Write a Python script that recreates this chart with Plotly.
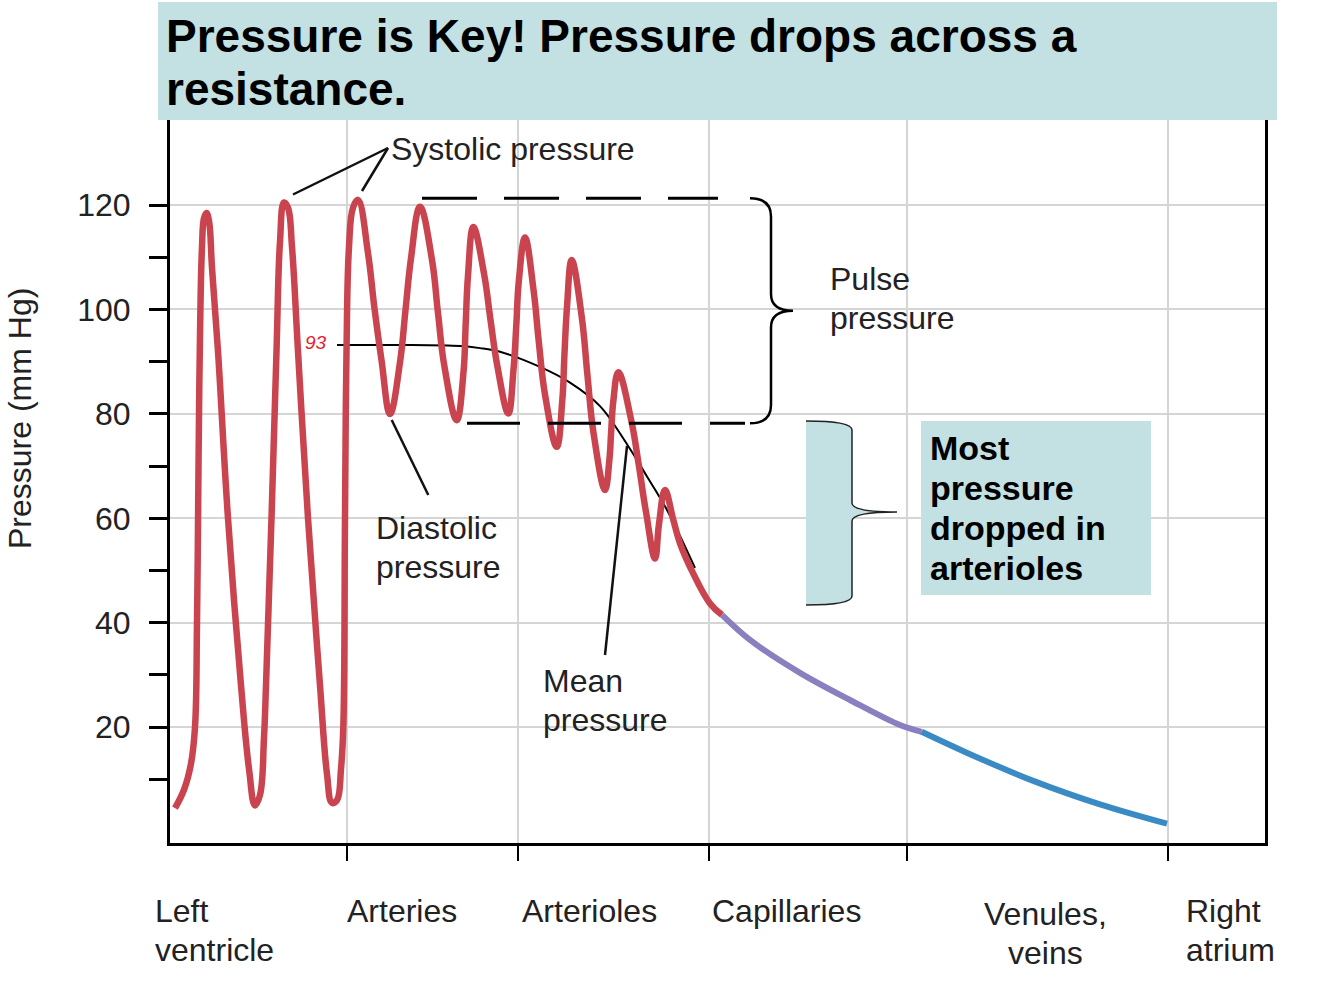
import plotly.graph_objects as go

# ---------------- data ----------------
# position along the circulation (arbitrary units), pressure in mm Hg
red_pos = [175, 184, 191, 195, 197, 198.5, 200, 202, 204, 206.5, 209, 212, 218, 228, 241, 249, 255,
           260, 264, 266, 271.5, 276.5, 280, 284, 288, 292, 298, 308, 320, 327, 332,
           337, 341, 343.3, 345, 346.5, 349, 353, 358,
           368, 374.3, 381.5, 390,
           400, 405.5, 411, 420,
           432, 438, 444.5, 456.7,
           463.5, 465.7, 468, 473.3,
           484, 490.5, 497.5, 508.3,
           513.5, 516.3, 518.8, 525,
           533.5, 538.8, 545, 556.7,
           562.3, 564.5, 567, 571.7,
           581.8, 587.4, 593.5, 605,
           609.3, 611.2, 613.3, 618.3,
           631, 638.8, 646, 655,
           659, 665,
           673.3, 680, 693.3, 710, 722]
red_p = [4.5, 8, 13, 20, 40, 70, 95, 112, 117.5, 118.5, 117, 108, 92, 60, 28, 12, 5,
         7, 18, 28, 60, 92, 113, 120.5, 119.5, 112, 92, 60, 28, 11, 5.5,
         6, 12, 20, 60, 92, 112, 119.5, 121,
         110.8, 100.5, 90.3, 80,
         89.9, 99.9, 109.8, 119.7,
         109.5, 99.3, 89, 78.8,
         88, 97.3, 106.5, 115.8,
         106.9, 98, 89, 80.1,
         88.5, 97, 105.4, 113.8,
         103.8, 93.8, 83.7, 73.7,
         82.6, 91.6, 100.5, 109.5,
         98.5, 87.5, 76.4, 65.4,
         71, 76.7, 82.4, 88,
         79, 70.2, 61.2, 52.3,
         58.9, 65.4,
         59.7, 55.2, 49.4, 43.7, 41.5]
purple_pos = [722, 750, 800, 850, 900, 921.7]
purple_p = [41.5, 36.7, 30.4, 25.2, 20.4, 19.1]
blue_pos = [921.7, 966.7, 1033.3, 1100, 1167]
blue_p = [19.1, 15.1, 9.7, 5.2, 1.5]
mean_pos = [337, 400, 460, 480, 500, 540, 570, 600, 627, 647, 667, 695]
mean_p = [93.2, 93.2, 93.0, 92.6, 91.9, 89.0, 86.0, 81.5, 74.2, 68.0, 61.6, 50.5]

systolic_level = 121.3
diastolic_level = 78.2
mean_level_label = "93"

region_pos = [347, 518, 709, 907, 1168]
y_major = [20, 40, 60, 80, 100, 120]
y_minor = [10, 30, 50, 70, 90, 110]

# ---------------- layout helpers (pixel positions of decorations) ----------------
L, R, T, B = 170, 1265, 120, 843
Y0, Y1 = -2.2, 136.3


def PX(px):
    return (px - L) / (R - L)


def PY(py):
    return (B - py) / (B - T)


def V(py):  # pixel y -> pressure value (for decorative shapes)
    return Y0 + (B - py) / (B - T) * (Y1 - Y0)


FONT = "Liberation Sans, Arial, Helvetica, sans-serif"
TXT = "#222222"

fig = go.Figure()
fig.add_trace(go.Scatter(x=mean_pos, y=mean_p, mode="lines", line=dict(color="black", width=2, shape="spline"),
                         hoverinfo="skip", showlegend=False))
fig.add_trace(go.Scatter(x=red_pos, y=red_p, mode="lines",
                         line=dict(color="#c9444f", width=6.5, shape="spline", smoothing=1.15),
                         showlegend=False))
fig.add_trace(go.Scatter(x=purple_pos, y=purple_p, mode="lines",
                         line=dict(color="#8a7fbf", width=6, shape="spline"), showlegend=False))
fig.add_trace(go.Scatter(x=blue_pos, y=blue_p, mode="lines",
                         line=dict(color="#3a8bc3", width=6, shape="spline"), showlegend=False))

shapes = []
# title box
shapes.append(dict(type="rect", xref="paper", yref="paper", x0=PX(158), x1=PX(1277), y0=PY(120), y1=PY(2),
                   fillcolor="#c3e0e2", line=dict(width=0), layer="above"))
# dashed systolic / diastolic levels
shapes.append(dict(type="line", xref="x", yref="y", x0=422, x1=718, y0=systolic_level, y1=systolic_level,
                   line=dict(color="black", width=3, dash="55px,27px")))
shapes.append(dict(type="line", xref="x", yref="y", x0=467, x1=745, y0=diastolic_level, y1=diastolic_level,
                   line=dict(color="black", width=3, dash="53px,28px")))
# pulse pressure brace
tip = (systolic_level + diastolic_level) / 2
p = (f"M 750,{systolic_level} Q 771,{systolic_level} 771,{systolic_level-3.5} L 771,{tip+3.2} "
     f"Q 771,{tip} 793,{tip} Q 771,{tip} 771,{tip-3.2} L 771,{diastolic_level+3.5} "
     f"Q 771,{diastolic_level} 750,{diastolic_level}")
shapes.append(dict(type="path", xref="x", yref="y", path=p, line=dict(color="black", width=2.5)))
# teal brace (arterioles)
pf = (f"M 806,{V(421)} Q 852,{V(421)} 852,{V(430)} L 852,{V(503)} Q 852,{V(512)} 897,{V(512)} "
      f"Q 852,{V(512)} 852,{V(521)} L 852,{V(596)} Q 852,{V(605)} 806,{V(605)} Z")
shapes.append(dict(type="path", xref="x", yref="y", path=pf, fillcolor="#c3e0e2", line=dict(width=0), layer="above"))
ps = (f"M 806,{V(421)} Q 852,{V(421)} 852,{V(430)} L 852,{V(503)} Q 852,{V(512)} 897,{V(512)} "
      f"Q 852,{V(512)} 852,{V(521)} L 852,{V(596)} Q 852,{V(605)} 806,{V(605)}")
shapes.append(dict(type="path", xref="x", yref="y", path=ps, line=dict(color="#222", width=1.5), layer="above"))
# text box
shapes.append(dict(type="rect", xref="x", yref="y", x0=921, x1=1151, y0=V(595), y1=V(421),
                   fillcolor="#c3e0e2", line=dict(width=0), layer="above"))
# leader lines
for (x0, y0, x1, y1) in [(388, 148, 293, 194.5), (388, 148, 362, 191), (391.7, 420, 428.3, 495), (627, 446, 605, 655)]:
    shapes.append(dict(type="line", xref="x", yref="y", x0=x0, y0=V(y0), x1=x1, y1=V(y1),
                       line=dict(color="#111", width=2.5)))

ann = []


def text(s, px, py, size=32, anchor="left", color=TXT, bold=False, **kw):
    ann.append(dict(text=f"<b>{s}</b>" if bold else s, x=PX(px), y=PY(py), xref="paper", yref="paper",
                    xanchor=anchor, yanchor="middle", showarrow=False,
                    font=dict(family=FONT, size=size, color=color, **kw)))


text("Pressure is Key! Pressure drops across a", 164, 36, size=46, color="black", bold=True)
text("resistance.", 164, 89, size=46, color="black", bold=True)
text("Systolic pressure", 389, 149)
text("Pulse", 828, 279)
text("pressure", 828, 318)
text("Diastolic", 374, 528)
text("pressure", 374, 567)
text("Mean", 541, 681)
text("pressure", 541, 720)
for i, s in enumerate(["Most", "pressure", "dropped in", "arterioles"]):
    text(s, 928, 448 + 40 * i, size=34, color="black", bold=True)
text(mean_level_label, 316, 342, size=19, anchor="center", color="#e8202a", style="italic")
# region labels
text("Left", 153, 911)
text("ventricle", 153, 950)
text("Arteries", 345, 911)
text("Arterioles", 520, 911)
text("Capillaries", 710, 911)
text("Venules,", 1045, 914, anchor="center")
text("veins", 1045, 953, anchor="center")
text("Right", 1184, 911)
text("atrium", 1184, 950)
# y-axis title
ann.append(dict(text="Pressure (mm Hg)", x=PX(20), y=PY(419), xref="paper", yref="paper", textangle=-90,
                xanchor="center", yanchor="middle", showarrow=False, font=dict(family=FONT, size=32, color=TXT)))

fig.update_layout(
    width=1334, height=1004,
    margin=dict(l=L, r=1334 - R, t=T, b=1004 - B),
    paper_bgcolor="white", plot_bgcolor="white",
    shapes=shapes, annotations=ann, showlegend=False,
    xaxis=dict(range=[L, R], showline=True, linecolor="black", linewidth=3,
               tickvals=region_pos, showticklabels=False, ticks="outside", ticklen=15, tickwidth=2,
               tickcolor="black", showgrid=True, gridcolor="#d5d5d5", gridwidth=2, zeroline=False),
    yaxis=dict(range=[Y0, Y1], showline=True, linecolor="black", linewidth=3, mirror=True,
               tickvals=y_major, ticktext=[str(v) for v in y_major], ticks="outside", ticklen=18, tickwidth=2.5,
               tickcolor="black", ticklabelstandoff=12,
               tickfont=dict(family=FONT, size=32, color=TXT),
               minor=dict(tickvals=y_minor, ticks="outside", ticklen=18, tickwidth=2.5, tickcolor="black",
                          showgrid=False),
               showgrid=True, gridcolor="#d5d5d5", gridwidth=2, zeroline=False),
)

fig.write_html("out.html", config={"displayModeBar": False},
               post_script="document.body.style.margin='0';")
